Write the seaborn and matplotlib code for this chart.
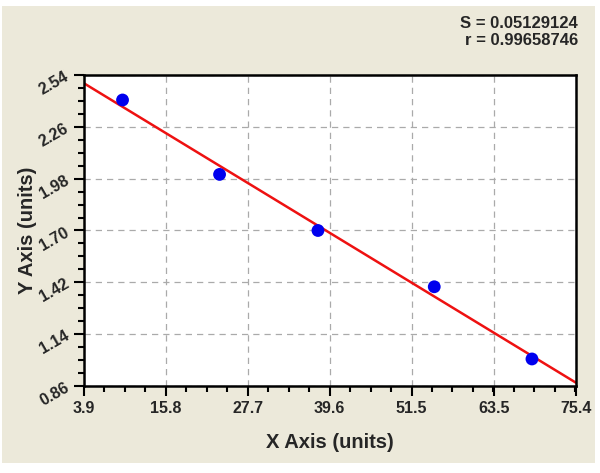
import numpy as np
import pandas as pd
import seaborn as sns
import matplotlib.pyplot as plt
from matplotlib.patches import Rectangle
from matplotlib.ticker import AutoMinorLocator

x_vals = [9.5, 23.6, 37.9, 54.8, 69.0]
y_vals = [2.405, 2.003, 1.700, 1.396, 1.006]
x_ticks = [3.9, 15.8, 27.7, 39.6, 51.5, 63.5, 75.4]
y_ticks = [0.86, 1.14, 1.42, 1.70, 1.98, 2.26, 2.54]
stats_lines = ["S = 0.05129124", "r = 0.99658746"]

sns.set_style("white")
plt.rcParams['font.family'] = ['Liberation Sans', 'DejaVu Sans']

df = pd.DataFrame({"x": x_vals, "y": y_vals})

fig = plt.figure(figsize=(6, 4.73), dpi=100, facecolor="white")
fig.patches.append(Rectangle((2 / 600, 1 - 463 / 473), 593 / 600, 457 / 473,
                             transform=fig.transFigure, facecolor="#ECE9DA",
                             edgecolor="none", zorder=-1))
ax = fig.add_axes([84 / 600, 1 - 386 / 473, 492 / 600, 311 / 473])
ax.set_facecolor("white")

# linear fit across the full x range
slope, icpt = np.polyfit(df["x"], df["y"], 1)
fit = pd.DataFrame({"x": [x_ticks[0], x_ticks[-1]]})
fit["y"] = slope * fit["x"] + icpt
sns.lineplot(data=fit, x="x", y="y", ax=ax, color="#EE1111", linewidth=1.8, zorder=2)
sns.scatterplot(data=df, x="x", y="y", ax=ax, color="#0000EE", s=85,
                edgecolor="none", zorder=3)

ax.set_xlim(x_ticks[0], x_ticks[-1])
ax.set_ylim(y_ticks[0], y_ticks[-1])
ax.set_xticks(x_ticks)
ax.set_yticks(y_ticks)
ax.set_xticklabels([f"{v:.1f}" for v in x_ticks], fontsize=11.5, fontweight="bold")
ax.set_yticklabels([f"{v:.2f}" for v in y_ticks], fontsize=11.5, fontweight="bold",
                   rotation=30)
ax.xaxis.set_minor_locator(AutoMinorLocator(4))
ax.yaxis.set_minor_locator(AutoMinorLocator(4))
ax.tick_params(which="major", direction="out", length=7, width=1.5, color="black", pad=4)
ax.tick_params(which="minor", direction="out", length=4, width=1.5, color="black")
ax.tick_params(axis="x", which="both", bottom=True)
ax.tick_params(axis="y", which="both", left=True, pad=2)
ax.grid(True, which="major", linestyle=(0, (5, 4)), color="#AAAAAA", linewidth=0.9)

for sp in ax.spines.values():
    sp.set_color("black")
    sp.set_linewidth(1.8)

ax.set_xlabel("X Axis (units)", fontsize=14.5, fontweight="bold", labelpad=12)
ax.set_ylabel("Y Axis (units)", fontsize=14.5, fontweight="bold", labelpad=0)

fig.text(578 / 600, 1 - 32 / 473, "\n".join(stats_lines), ha="right", va="center",
         fontsize=12, fontweight="bold", linespacing=1.15)

fig.savefig("out.png", dpi=100, facecolor=fig.get_facecolor())
